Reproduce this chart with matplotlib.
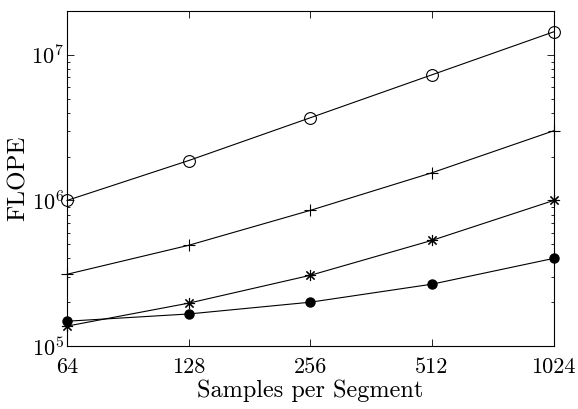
#!/usr/bin/env python3
"""FLOPE vs samples per segment (log-log), four variants."""

import matplotlib

matplotlib.use("Agg")
import matplotlib.pyplot as plt
from matplotlib.ticker import FixedLocator, FixedFormatter, NullLocator

samples = [64, 128, 256, 512, 1024]
sample_labels = ["64", "128", "256", "512", "1024"]

flope_circle = [1.0e6, 1.88e6, 3.70e6, 7.3e6, 1.44e7]
flope_plus = [3.11e5, 4.92e5, 8.55e5, 1.55e6, 3.01e6]
flope_star = [1.37e5, 1.97e5, 3.06e5, 5.32e5, 1.0e6]
flope_dot = [1.48e5, 1.66e5, 2.0e5, 2.66e5, 4.0e5]

plt.rcParams["font.family"] = "cmr10"
plt.rcParams["mathtext.fontset"] = "cm"
plt.rcParams["axes.formatter.use_mathtext"] = True

fig = plt.figure(figsize=(5.78, 4.09), dpi=100)
ax = fig.add_axes([0.116, 0.154, 0.842, 0.819])

common = dict(color="black", linewidth=0.8, clip_on=False)
ax.plot(samples, flope_circle, marker="o", markersize=8.5, fillstyle="none",
        markeredgewidth=0.8, **common)
ax.plot(samples, flope_plus, marker="+", markersize=9, markeredgewidth=0.8, **common)
ax.plot(samples, flope_star, marker=(8, 2, 0), markersize=8, markeredgewidth=0.8,
        **common)
ax.plot(samples, flope_dot, marker="o", markersize=6.5, markerfacecolor="black",
        **common)

ax.set_xscale("log", base=2)
ax.set_yscale("log")
ax.set_xlim(64, 1024)
ax.set_ylim(1e5, 2e7)
ax.xaxis.set_major_locator(FixedLocator(samples))
ax.xaxis.set_major_formatter(FixedFormatter(sample_labels))
ax.xaxis.set_minor_locator(NullLocator())

ax.tick_params(which="both", direction="in", top=True, right=True, width=0.6)
ax.tick_params(which="major", length=5, labelsize=16)
ax.tick_params(which="minor", length=2.5)
ax.tick_params(axis="x", pad=8)
ax.tick_params(axis="y", pad=2)
for spine in ax.spines.values():
    spine.set_linewidth(0.8)

ax.set_xlabel("Samples per Segment", fontsize=17.5, labelpad=2)
ax.set_ylabel("FLOPE", fontsize=18)
ax.yaxis.set_label_coords(-0.077, 0.5)

fig.savefig("out.png", dpi=100)
